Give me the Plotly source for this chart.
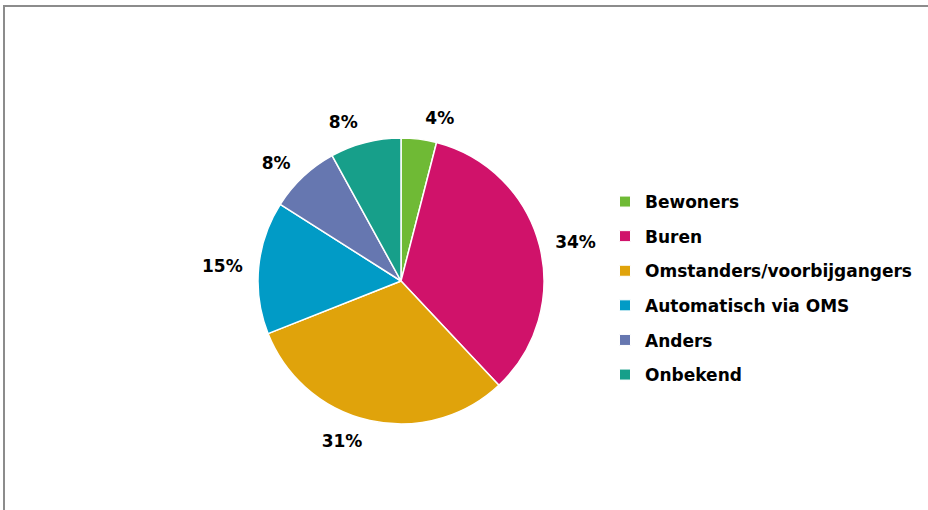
import plotly.graph_objects as go

labels = ["Bewoners", "Buren", "Omstanders/voorbijgangers", "Automatisch via OMS", "Anders", "Onbekend"]
values = [4, 34, 31, 15, 8, 8]
colors = ["#6FBA35", "#D0126A", "#E0A30B", "#019BC6", "#6677B0", "#179F8A"]

W, H = 928, 510
cx, cy, r = 401, 281, 143
r_lab = 154
FONT = "DejaVu Sans"


def dom(rad):
    return dict(x=[(cx - rad) / W, (cx + rad) / W], y=[(H - cy - rad) / H, (H - cy + rad) / H])


fig = go.Figure()
# visible pie
fig.add_trace(go.Pie(
    labels=labels, values=values, sort=False, direction="clockwise", rotation=0,
    marker=dict(colors=colors, line=dict(color="white", width=1.5)),
    textinfo="none", showlegend=False, domain=dom(r),
))
# transparent pie carrying the outside percentage labels slightly further out
fig.add_trace(go.Pie(
    labels=labels, values=values, sort=False, direction="clockwise", rotation=0,
    marker=dict(colors=["rgba(0,0,0,0)"] * len(values), line=dict(width=0)),
    textposition="outside", texttemplate="%{percent:.0%}",
    textfont=dict(family=FONT, size=17, color="black", weight="bold"),
    showlegend=False, hoverinfo="skip", domain=dom(r_lab),
))

for i, (lab, col) in enumerate(zip(labels, colors)):
    fig.add_trace(go.Scatter(
        x=[None], y=[None], mode="markers", name=lab, legendgroup=str(i),
        marker=dict(symbol="square", size=11, color=col, line=dict(color="white", width=1)),
    ))

fig.update_layout(
    width=W, height=H,
    margin=dict(l=0, r=0, t=0, b=0),
    paper_bgcolor="white", plot_bgcolor="white",
    xaxis=dict(visible=False), yaxis=dict(visible=False),
    legend=dict(x=605 / W, y=1 - 184 / H, xanchor="left", yanchor="top",
                traceorder="grouped", tracegroupgap=9.5, itemwidth=30,
                font=dict(family=FONT, size=17, color="black", weight="bold")),
    shapes=[dict(type="rect", xref="paper", yref="paper", x0=4 / W, x1=1.02, y0=-0.02, y1=1 - 6 / H,
                 line=dict(color="#8C8C8C", width=2))],
)

fig.write_html("out.html", config={"displayModeBar": False},
               post_script="document.body.style.margin='0';")
